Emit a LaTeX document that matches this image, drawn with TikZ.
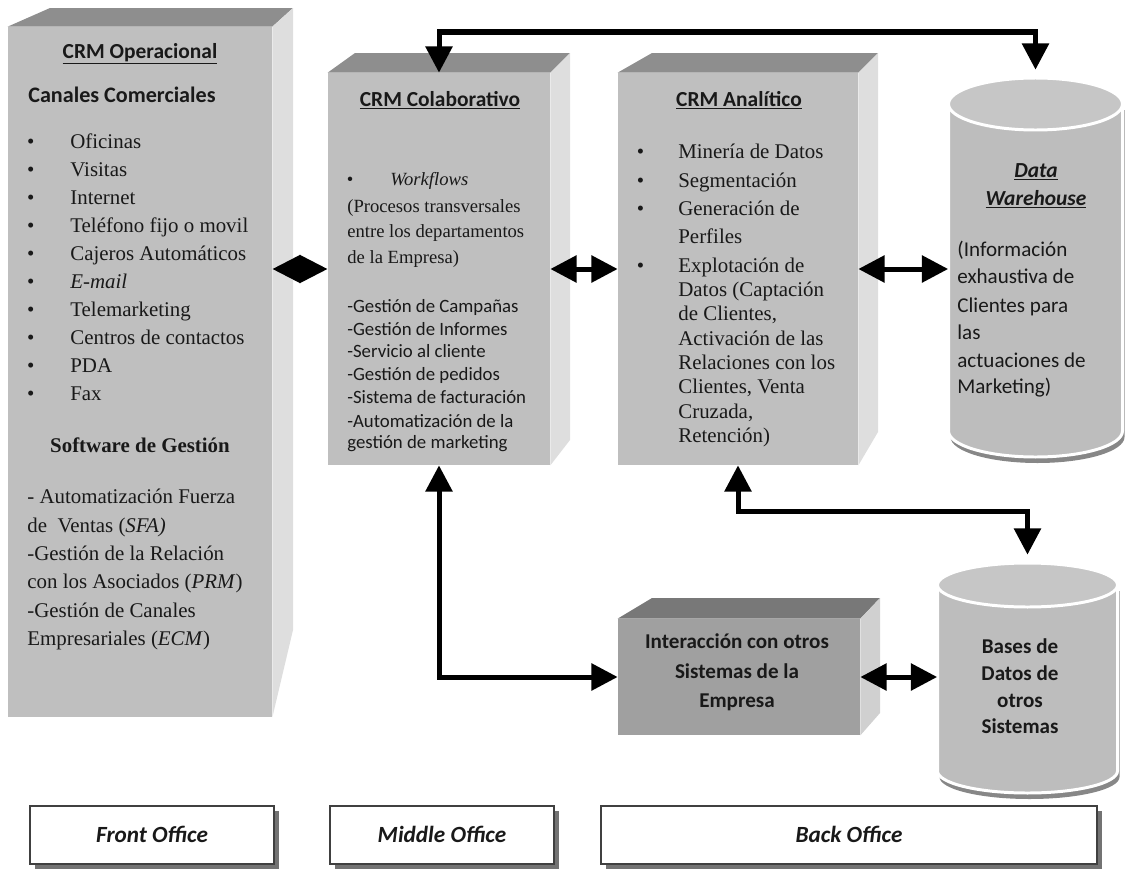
\documentclass[tikz,border=0pt]{standalone}
\usepackage{fontspec}
\setmainfont{Liberation Serif}
\newfontfamily\calib{Carlito}
\usetikzlibrary{arrows.meta,fit,shadows}

\definecolor{txt}{RGB}{25,25,25}
\definecolor{frontgray}{RGB}{191,191,191}
\definecolor{topgray}{RGB}{142,142,142}
\definecolor{sidegray}{RGB}{222,222,222}
\definecolor{darkfront}{RGB}{160,160,160}
\definecolor{darktop}{RGB}{120,120,120}
\definecolor{darkside}{RGB}{208,208,208}
\definecolor{cylgray}{RGB}{189,189,189}
\definecolor{cyltop}{RGB}{198,198,198}
\definecolor{cylshade}{RGB}{135,135,135}

% bullet hung to the left of an item
\newcommand\itembul[1]{\llap{\textbullet\hspace{#1}}}

% database drum: centre x, top axis y, bottom axis y, x radius, y radius
\newcommand\dbdrum[5]{%
  \fill[cylshade] ({#1-#4+2},{#2+6}) -- ({#1-#4+2},{#3+6})
    arc[start angle=180, end angle=0, x radius=#4, y radius=#5]
    -- ({#1+#4+2},{#2+6}) -- cycle;
  \filldraw[fill=cylgray, draw=white, line width=1.7pt]
    ({#1-#4},{#2}) -- ({#1-#4},{#3})
    arc[start angle=180, end angle=0, x radius=#4, y radius=#5]
    -- ({#1+#4},{#2})
    arc[start angle=0, end angle=-180, x radius=#4, y radius=#5] -- cycle;
  \filldraw[fill=cyltop, draw=white, line width=1.7pt]
    ({#1},{#2}) ellipse[x radius=#4, y radius=#5];
}

\begin{document}
\begin{tikzpicture}[x=0.02cm, y=-0.02cm,
  front/.style={fill=frontgray, inner sep=0pt},
  darkface/.style={fill=darkfront, inner sep=0pt},
  topface/.style={fill=topgray},
  sideface/.style={fill=sidegray},
  hdr/.style={anchor=base, inner sep=0pt, text=txt,
    font=\calib\bfseries\fontsize{12.2pt}{14pt}\selectfont},
  canal/.style={anchor=base west, inner sep=0pt, text=txt,
    font=\calib\bfseries\fontsize{12.6pt}{14pt}\selectfont},
  serifA/.style={anchor=base west, inner sep=0pt, text=txt,
    font=\fontsize{11.9pt}{14pt}\selectfont},
  serifB/.style={anchor=base west, inner sep=0pt, text=txt,
    font=\fontsize{10.6pt}{13pt}\selectfont},
  sansB/.style={anchor=base west, inner sep=0pt, text=txt,
    font=\calib\fontsize{10.7pt}{13pt}\selectfont},
  sansC/.style={anchor=base, inner sep=0pt, text=txt,
    font=\calib\bfseries\fontsize{12pt}{14pt}\selectfont},
  dwbody/.style={anchor=base west, inner sep=0pt, text=txt,
    font=\calib\fontsize{12pt}{14pt}\selectfont},
  dwhead/.style={anchor=base, inner sep=0pt, text=txt,
    font=\calib\bfseries\itshape\fontsize{12.2pt}{14pt}\selectfont},
  office/.style={draw=black!75, line width=0.8pt, fill=white, inner sep=0pt,
    drop shadow={shadow xshift=2.6pt, shadow yshift=-2.6pt,
      fill=black, opacity=0.55}},
  officetext/.style={anchor=base, inner sep=0pt, text=txt,
    font=\calib\bfseries\itshape\fontsize{13.2pt}{15pt}\selectfont},
  conn/.style={line width=2.85pt, draw=black,
    >={Triangle[length=15pt,width=15pt]}, <->},
  joint/.style={line width=2.85pt, draw=black,
    >={Triangle[length=16pt,width=15.5pt]}, <->},
]
\useasboundingbox (0,0) rectangle (1126,869);

% ---------- CRM Operacional ----------
\node[front, fit={(8,27)(272,717)}] (op) {};
\fill[topface] (op.north west) -- (op.north east) -- (293,8) -- (50,8) -- cycle;
\fill[sideface] (op.north east) -- (293,8) -- (293,630) -- (op.south east) -- cycle;

\node[hdr] (opT) at (140,58) {\underline{CRM Operacional}};
\node[canal] (opC) at (28,102) {Canales Comerciales};
\foreach \y/\t [count=\i] in {148/Oficinas, 176/Visitas, 204/Internet,
    232/Teléfono fijo o movil, 260/Cajeros Automáticos, 288/\textit{E-mail},
    316/Telemarketing, 344/Centros de contactos, 372/PDA, 400/Fax}
  \node[serifA] (opL\i) at (70,\y) {\itembul{20.5pt}\t};
\node[serifA, anchor=base] (opS) at (140,452) {\textbf{Software de Gestión}};
\node[serifA] (opM1) at (27,503) {- Automatización Fuerza};
\node[serifA] (opM2) at (27,532) {de\ \ Ventas (\textit{SFA)}};
\node[serifA] (opM3) at (27,560) {-Gestión de la Relación};
\node[serifA] (opM4) at (27,588) {con los Asociados (\textit{PRM})};
\node[serifA] (opM5) at (27,617) {-Gestión de Canales};
\node[serifA] (opM6) at (27,645) {Empresariales (\textit{ECM})};

% ---------- CRM Colaborativo ----------
\node[front, fit={(328,73)(550,465)}] (colab) {};
\fill[topface] (colab.north west) -- (colab.north east) -- (570,53) -- (355,53) -- cycle;
\fill[sideface] (colab.north east) -- (570,53) -- (570,440) -- (colab.south east) -- cycle;

\node[hdr] (coT) at (440,106) {\underline{CRM Colaborativo}};
\node[serifB] (coW) at (390,185) {\itembul{21pt}\textit{Workflows}};
\node[serifB] (coP1) at (347,212) {(Procesos transversales};
\node[serifB] (coP2) at (347,237) {entre los departamentos};
\node[serifB] (coP3) at (347,263) {de la Empresa)};
\foreach \y/\t [count=\i] in {312/-Gestión de Campañas, 335/-Gestión de Informes,
    357/-Servicio al cliente, 380/-Gestión de pedidos,
    403/-Sistema de facturación, 427/-Automatización de la,
    448/gestión de marketing}
  \node[sansB] (coL\i) at (347,\y) {\t};

% ---------- CRM Analitico ----------
\node[front, fit={(618,73)(858,465)}] (anal) {};
\fill[topface] (anal.north west) -- (anal.north east) -- (878,53) -- (652,53) -- cycle;
\fill[sideface] (anal.north east) -- (878,53) -- (878,432) -- (anal.south east) -- cycle;

\node[hdr] (anT) at (739,106) {\underline{CRM Analítico}};
\node[serifA] (anL1) at (678,158) {\itembul{19.5pt}Minería de Datos};
\node[serifA] (anL2) at (678,187) {\itembul{19.5pt}Segmentación};
\node[serifA] (anL3) at (678,215) {\itembul{19.5pt}Generación de};
\node[serifA] (anL4) at (678,243) {Perfiles};
\node[serifA] (anL5) at (678,272) {\itembul{19.5pt}Explotación de};
\foreach \y/\t [count=\i from 6] in {296/Datos (Captación, 320/{de Clientes,},
    345/Activación de las, 369/Relaciones con los, 393/{Clientes, Venta},
    418/{Cruzada,}, 442/Retención)}
  \node[serifA] (anL\i) at (678,\y) {\t};

% ---------- Interaccion con otros sistemas ----------
\node[darkface, fit={(618,619)(860,735)}] (inter) {};
\fill[darktop] (inter.north west) -- (inter.north east) -- (880,598) -- (652,598) -- cycle;
\fill[darkside] (inter.north east) -- (880,598) -- (880,713) -- (inter.south east) -- cycle;
\node[sansC] (inT1) at (737,648) {Interacción con otros};
\node[sansC] (inT2) at (737,678) {Sistemas de la};
\node[sansC] (inT3) at (737,707) {Empresa};

% ---------- Data Warehouse ----------
\dbdrum{1035.5}{104}{431}{87}{26}
\node[fit={(948.5,70)(1122.5,465)}, inner sep=0pt] (dw) {};
\node[dwhead] (dwT1) at (1036,177) {\underline{Data}};
\node[dwhead] (dwT2) at (1036,205) {\underline{Warehouse}};
\foreach \y/\t [count=\i] in {256/(Información, 283/exhaustiva de,
    312/Clientes para, 339/las, 367/actuaciones de, 393/Marketing)}
  \node[dwbody] (dwL\i) at (957,\y) {\t};

% ---------- Bases de datos de otros sistemas ----------
\dbdrum{1027.5}{585}{771}{90}{22}
\node[fit={(937.5,555)(1117.5,795)}, inner sep=0pt] (bases) {};
\foreach \y/\t [count=\i] in {653/Bases de, 680/Datos de, 707/otros, 733/Sistemas}
  \node[sansC] (bdL\i) at (1020,\y) {\t};

% ---------- Office bands ----------
\node[office, fit={(30,806)(274,864)}] (frontoff) {};
\node[office, fit={(330,806)(554,864)}] (midoff) {};
\node[office, fit={(601,806)(1097,864)}] (backoff) {};
\node[officetext] (frontlbl) at (frontoff.center |- 0,842) {Front Office};
\node[officetext] (midlbl) at (midoff.center |- 0,842) {Middle Office};
\node[officetext] (backlbl) at (backoff.center |- 0,842) {Back Office};

% ---------- Connectors ----------
\coordinate (toprail) at (700,32);
\coordinate (lowrail) at (880,511);
\draw[conn] (colab.north) |- (toprail) -| (dw.north);
\draw[joint] (op.east |- colab.west) -- (colab.west);
\draw[conn] (colab.east) -- (anal.west);
\draw[conn] (anal.east) -- (dw.west |- anal.east);
\draw[conn] (colab.south) |- (inter.west);
\draw[conn] (anal.south) |- (lowrail) -| (bases.north);
\draw[conn] (inter.east) -- (bases.west |- inter.east);
\end{tikzpicture}
\end{document}
